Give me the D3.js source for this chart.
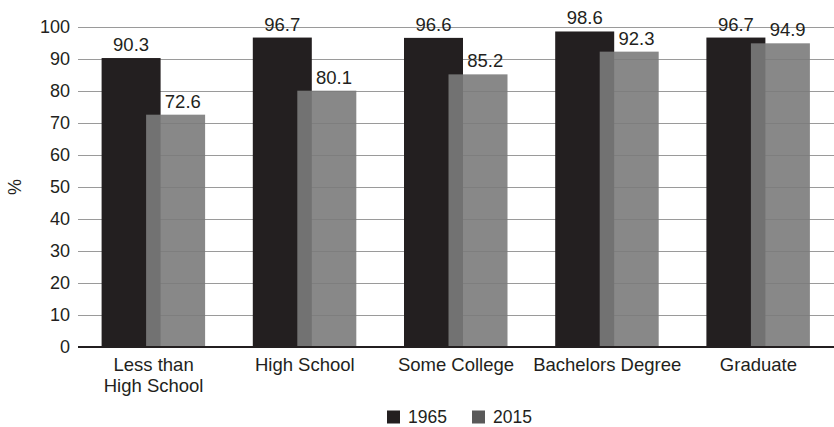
<!DOCTYPE html>
<html><head><meta charset="utf-8">
<script src="https://cdn.jsdelivr.net/npm/d3@7"></script>
<style>body{margin:0;background:#fff}svg{display:block;font-family:"Liberation Sans",Arial,sans-serif}</style>
</head><body><svg id="c" width="834" height="427"></svg>
<script>
const categories = [["Less than","High School"],["High School"],["Some College"],["Bachelors Degree"],["Graduate"]];
const values1965 = [90.3, 96.7, 96.6, 98.6, 96.7];
const values2015 = [72.6, 80.1, 85.2, 92.3, 94.9];
const seriesNames = ["1965", "2015"];
const yTicks = [0,10,20,30,40,50,60,70,80,90,100];

(function () {
const svg = d3.select("#c");
const pLeft = 78, pRight = 834, pTop = 27, pBottom = 347;
const x = d3.scaleBand().domain(d3.range(categories.length)).range([pLeft, pRight]);
const y = d3.scaleLinear().domain([0, 100]).range([pBottom, pTop]);
const bw = 59, off1 = -52, off2 = -7.5;
const txt = "#231f20";

// grid
svg.append("g").selectAll("line").data(yTicks.filter(d => d > 0)).join("line")
  .attr("x1", pLeft).attr("x2", pRight).attr("y1", d => y(d) + 0.5).attr("y2", d => y(d) + 0.5)
  .attr("stroke", "#9a9a9a").attr("stroke-width", 1);

// y labels
svg.append("g").selectAll("text").data(yTicks).join("text")
  .attr("x", 70).attr("y", d => y(d)).attr("dy", "0.36em").attr("text-anchor", "end")
  .attr("font-size", 18).attr("fill", txt).text(d => d);

svg.append("text").attr("transform", `translate(21,${(pTop+pBottom)/2}) rotate(-90)`)
  .attr("text-anchor", "middle").attr("font-size", 18).attr("fill", txt).text("%");

const c1 = "#231f20", c2 = "#7b7b7b";
const g = svg.append("g");
categories.forEach((cat, i) => {
  const cx = x(i) + x.bandwidth() / 2;
  g.append("rect").attr("x", cx + off1).attr("width", bw)
    .attr("y", y(values1965[i])).attr("height", y(0) - y(values1965[i])).attr("fill", c1);
  g.append("rect").attr("x", cx + off2).attr("width", bw)
    .attr("y", y(values2015[i])).attr("height", y(0) - y(values2015[i]))
    .attr("fill", c2).attr("fill-opacity", 0.9);
  g.append("text").attr("x", cx + off1 + bw / 2).attr("y", y(values1965[i]) - 7)
    .attr("text-anchor", "middle").attr("font-size", 18.5).attr("fill", txt).text(values1965[i].toFixed(1));
  const visStart = cx + off1 + bw;
  g.append("text").attr("x", (visStart + cx + off2 + bw) / 2).attr("y", y(values2015[i]) - 7)
    .attr("text-anchor", "middle").attr("font-size", 18.5).attr("fill", txt).text(values2015[i].toFixed(1));
  const t = g.append("text").attr("text-anchor", "middle").attr("font-size", 18.5).attr("fill", txt);
  cat.forEach((line, j) => t.append("tspan").attr("x", cx).attr("y", 371 + j * 21).text(line));
});

// baseline
svg.append("line").attr("x1", pLeft).attr("x2", pRight).attr("y1", y(0)).attr("y2", y(0))
  .attr("stroke", "#231f20").attr("stroke-width", 2);

// legend
const legColors = ["#231f20", "#595959"];
const legX = [387, 472];
seriesNames.forEach((n, i) => {
  svg.append("rect").attr("x", legX[i]).attr("y", 410.5).attr("width", 13).attr("height", 13).attr("fill", legColors[i]);
  svg.append("text").attr("x", legX[i] + 21).attr("y", 417).attr("dy", "0.36em")
    .attr("font-size", 17.5).attr("fill", txt).text(n);
});
})();
</script></body></html>
